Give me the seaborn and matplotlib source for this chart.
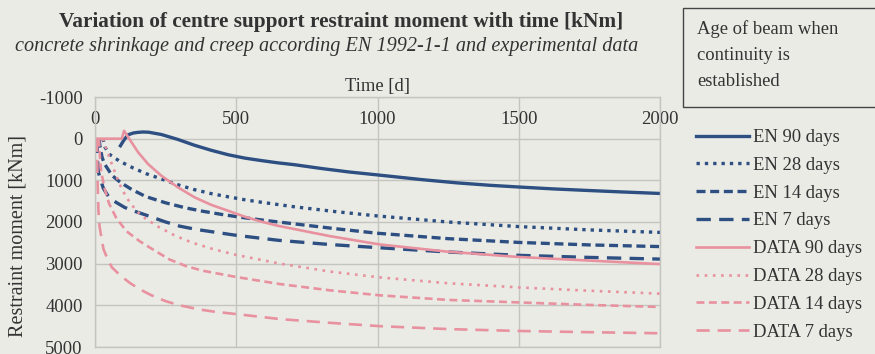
import matplotlib
matplotlib.use("Agg")
import matplotlib.pyplot as plt
from matplotlib.patches import Rectangle
import seaborn as sns
import pandas as pd

# ---------------- data ----------------
en90_day = [90, 100, 106, 118, 135, 150, 170, 190, 235, 294, 353, 412, 471, 529, 588, 647, 706, 806, 900, 1000, 1160, 1280, 1400, 1500, 1620, 1750, 1870, 2000]
en90_val = [170, 60, 0, -95, -135, -150, -160, -155, -100, 20, 160, 280, 385, 465, 525, 580, 625, 720, 800, 870, 985, 1060, 1120, 1160, 1205, 1245, 1280, 1315]

en28_day = [28, 35, 52, 87, 134, 181, 228, 290, 350, 412, 471, 529, 588, 700, 850, 1000, 1250, 1500, 1750, 2000]
en28_val = [0, 200, 380, 540, 700, 840, 950, 1100, 1220, 1320, 1395, 1465, 1525, 1630, 1750, 1855, 2000, 2110, 2190, 2250]

en14_day = [14, 18, 25, 35, 60, 90, 130, 180, 250, 320, 380, 450, 520, 600, 700, 850, 1000, 1250, 1500, 1750, 2000]
en14_val = [0, 200, 450, 620, 880, 1050, 1220, 1390, 1540, 1660, 1740, 1820, 1890, 1960, 2040, 2160, 2270, 2400, 2490, 2550, 2590]

en7_day = [7, 9, 12, 18, 30, 50, 75, 105, 135, 170, 200, 250, 300, 360, 420, 500, 650, 830, 1000, 1250, 1500, 1750, 2000]
en7_val = [0, 500, 800, 950, 1200, 1410, 1530, 1650, 1730, 1810, 1880, 2000, 2100, 2180, 2240, 2320, 2440, 2540, 2615, 2720, 2800, 2850, 2890]

data90_day = [0, 95, 103, 118, 153, 188, 235, 294, 353, 412, 471, 529, 588, 647, 706, 832, 1009, 1245, 1500, 1717, 2000]
data90_val = [0, 0, -190, -30, 330, 610, 890, 1170, 1410, 1590, 1730, 1870, 1990, 2090, 2170, 2340, 2540, 2710, 2840, 2915, 3010]

data28_day = [28, 40, 64, 87, 111, 146, 181, 228, 287, 346, 418, 500, 655, 832, 1009, 1250, 1500, 1750, 2000]
data28_val = [0, 250, 690, 1090, 1410, 1730, 1930, 2130, 2340, 2500, 2650, 2790, 3000, 3190, 3330, 3470, 3570, 3650, 3720]

data14_day = [14, 18, 22, 34, 50, 75, 111, 158, 205, 264, 323, 382, 500, 655, 832, 1009, 1250, 1500, 1750, 2000]
data14_val = [0, 500, 800, 1200, 1560, 1900, 2220, 2460, 2660, 2900, 3060, 3170, 3320, 3490, 3640, 3760, 3870, 3930, 3990, 4040]

data7_day = [7, 9, 12, 16, 22, 30, 45, 60, 80, 100, 125, 160, 200, 250, 300, 370, 420, 500, 655, 832, 1009, 1250, 1500, 1750, 2000]
data7_val = [0, 1000, 1700, 2100, 2350, 2650, 2900, 3090, 3220, 3340, 3470, 3620, 3760, 3900, 4000, 4100, 4150, 4210, 4330, 4420, 4500, 4570, 4615, 4645, 4670]

series_labels = ["EN 90 days", "EN 28 days", "EN 14 days", "EN 7 days",
                 "DATA 90 days", "DATA 28 days", "DATA 14 days", "DATA 7 days"]
x_ticks = [0, 500, 1000, 1500, 2000]
y_ticks = [-1000, 0, 1000, 2000, 3000, 4000, 5000]

# ---------------- styling ----------------
BG = "#ebebe6"
GRID = "#c4c4c0"
BLUE = "#2d4f82"
PINK = "#e8919f"
TXT = "#333333"
FS = 13.4

plt.rcParams['font.family'] = ['Liberation Serif', 'DejaVu Serif']

series = [
    (en90_day, en90_val, BLUE, 2.4, "-"),
    (en28_day, en28_val, BLUE, 2.4, (0, (1.0, 1.5))),
    (en14_day, en14_val, BLUE, 2.4, (0, (2.7, 1.4))),
    (en7_day, en7_val, BLUE, 2.4, (0, (4.3, 2.5))),
    (data90_day, data90_val, PINK, 1.9, "-"),
    (data28_day, data28_val, PINK, 1.9, (0, (1.0, 2.1))),
    (data14_day, data14_val, PINK, 1.9, (0, (3.0, 1.7))),
    (data7_day, data7_val, PINK, 1.9, (0, (5.0, 3.0))),
]

fig = plt.figure(figsize=(8.75, 3.54), dpi=100, facecolor=BG)
ax = fig.add_axes([95 / 875, 1 - 347 / 354, 565 / 875, 250 / 354])
ax.set_facecolor(BG)

for (d, v, c, lw, ls), lab in zip(series, series_labels):
    df = pd.DataFrame({"day": d, "val": v})
    sns.lineplot(data=df, x="day", y="val", ax=ax, color=c, linewidth=lw,
                 linestyle=ls, dash_capstyle="butt", label=lab, sort=False)

ax.set_xlim(0, 2000)
ax.set_ylim(5000, -1000)
ax.set_xticks(x_ticks)
ax.set_yticks(y_ticks)
ax.set_xticklabels([str(t) for t in x_ticks])
ax.set_yticklabels([str(t) for t in y_ticks])
ax.grid(True, color=GRID, linewidth=1.0)
ax.set_axisbelow(True)
for s in ax.spines.values():
    s.set_color(GRID)
    s.set_linewidth(1.0)

ax.xaxis.tick_top()
ax.xaxis.set_label_position('top')
ax.tick_params(axis='x', which='both', length=0, pad=-22, labelsize=FS, labelcolor=TXT,
               top=True, bottom=False, labeltop=True, labelbottom=False)
ax.tick_params(axis='y', length=0, pad=9, labelsize=FS, labelcolor=TXT)
ax.set_xlabel("Time [d]", fontsize=FS, color=TXT, labelpad=4)
ax.set_ylabel("Restraint moment [kNm]", fontsize=14.5, color=TXT)
ax.yaxis.set_label_coords((28 - 95) / 565, (347 - 236) / 250)

fig.text(341 / 875, 1 - 22 / 354, "Variation of centre support restraint moment with time [kNm]",
         ha='center', va='center', fontsize=15.3, fontweight='bold', color=TXT)
fig.text(327 / 875, 1 - 47 / 354, "concrete shrinkage and creep according EN 1992-1-1 and experimental data",
         ha='center', va='center', fontsize=14.6, fontstyle='italic', color=TXT)

# legend title box
fig.patches.append(Rectangle((683 / 875, 1 - 107 / 354), 0.25, 99 / 354, transform=fig.transFigure,
                             facecolor=BG, edgecolor="#444444", linewidth=1.0))
fig.text(697 / 875, 1 - 20 / 354, "Age of beam when\ncontinuity is\nestablished",
         ha='left', va='top', fontsize=FS, color=TXT, linespacing=1.7)

leg = ax.legend(loc='upper left', bbox_to_anchor=(696 / 875, 1 - 129 / 354), bbox_transform=fig.transFigure,
                frameon=False, fontsize=FS, handlelength=2.85, handletextpad=0.2,
                labelspacing=0.58, borderpad=0, borderaxespad=0)
for t in leg.get_texts():
    t.set_color(TXT)

fig.savefig("out.png", dpi=100, facecolor=BG)
